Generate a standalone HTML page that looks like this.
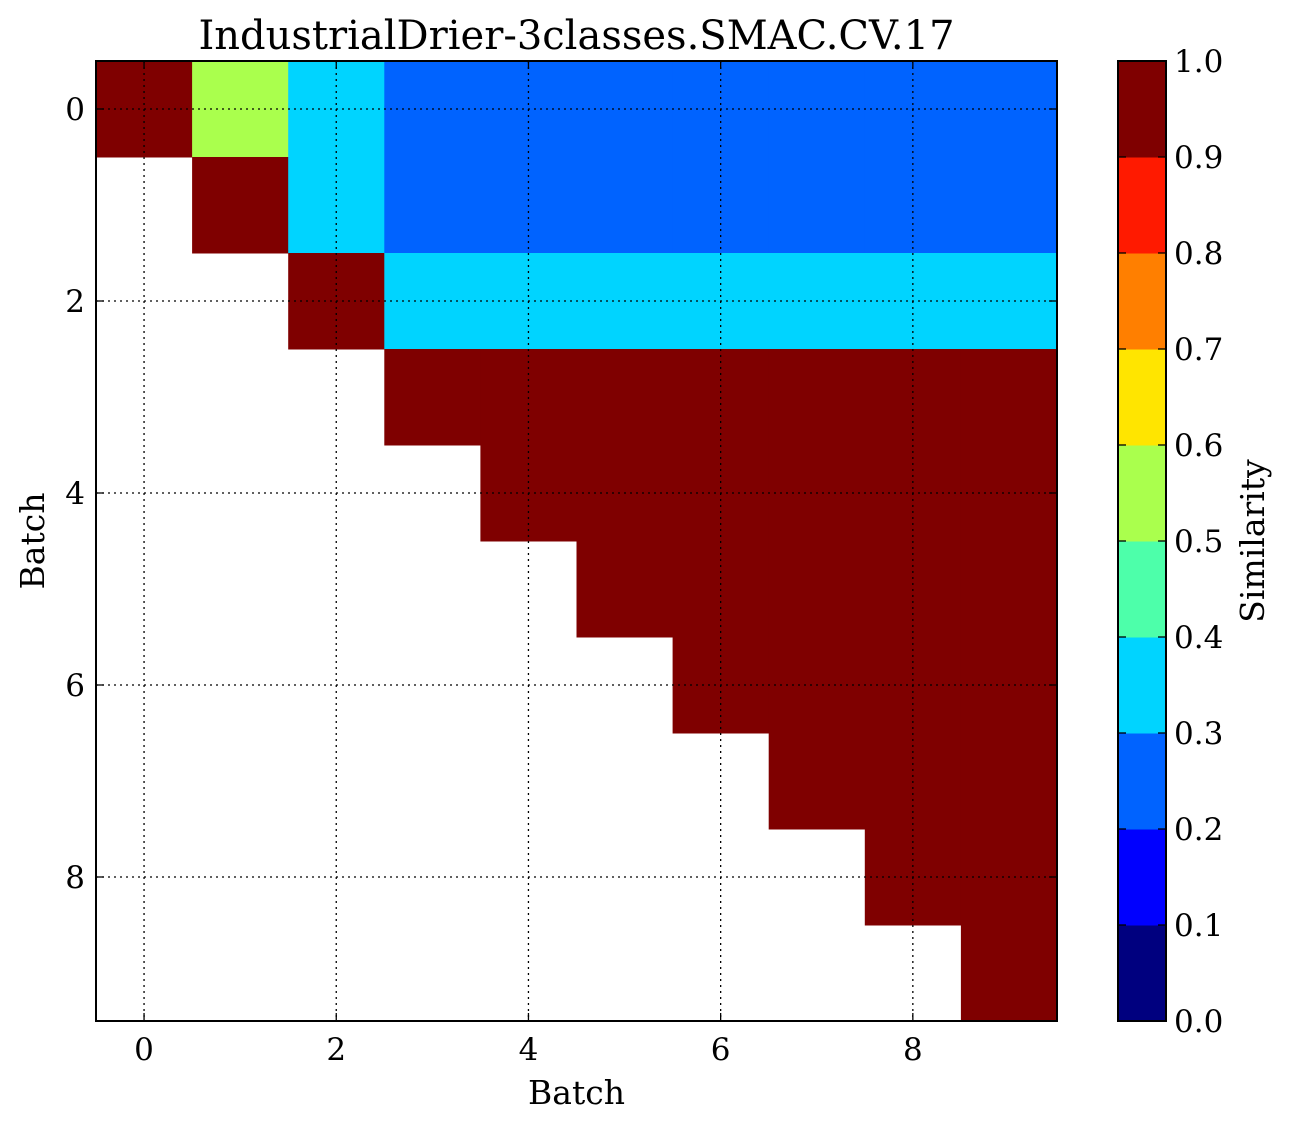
<!DOCTYPE html>
<html><head><meta charset="utf-8"><style>
body{margin:0;background:#fff}
svg text{font-family:"DejaVu Serif","Liberation Serif",serif;fill:#000}
</style></head><body>
<svg id="c" width="1291" height="1131"></svg>
<script>
const ticks=[0,2,4,6,8];
const cbTicks=["0.0","0.1","0.2","0.3","0.4","0.5","0.6","0.7","0.8","0.9","1.0"];
const bandColors=["#00007f","#0000ff","#0063ff","#00d4ff","#4dffaa","#aaff4d","#ffe500","#ff7f00","#ff1a00","#7f0000"];
const rows=[
[1,0.55,0.35,0.25,0.25,0.25,0.25,0.25,0.25,0.25],
[null,1,0.35,0.25,0.25,0.25,0.25,0.25,0.25,0.25],
[null,null,1,0.35,0.35,0.35,0.35,0.35,0.35,0.35],
[null,null,null,1,1,1,1,1,1,1],
[null,null,null,null,1,1,1,1,1,1],
[null,null,null,null,null,1,1,1,1,1],
[null,null,null,null,null,null,1,1,1,1],
[null,null,null,null,null,null,null,1,1,1],
[null,null,null,null,null,null,null,null,1,1],
[null,null,null,null,null,null,null,null,null,1]];
const NS="http://www.w3.org/2000/svg",svg=document.getElementById('c');
const L=96,R=1057,T=61,B=1021;
const xs=v=>L+(v+0.5)/10*(R-L), ys=v=>T+(v+0.5)/10*(B-T);
function mk(t,a,p){const e=document.createElementNS(NS,t);for(const k in a)e.setAttribute(k,a[k]);(p||svg).appendChild(e);return e;}
function col(v){let i=Math.min(9,Math.floor(v*10+1e-9));return bandColors[i];}
rows.forEach((r,i)=>r.forEach((v,j)=>{if(v==null)return;
 const e=mk('rect',{x:xs(j-0.5),y:ys(i-0.5),width:xs(j+0.5)-xs(j-0.5)+0.5,height:ys(i+0.5)-ys(i-0.5)+0.5,fill:col(v)});
 
 }));
ticks.forEach(t=>{
 const g1=mk('line',{x1:xs(t),x2:xs(t),y1:T,y2:B,stroke:'#000','stroke-width':1.3,'stroke-dasharray':'2,4'});
 
 const g2=mk('line',{y1:ys(t),y2:ys(t),x1:L,x2:R,stroke:'#000','stroke-width':1.3,'stroke-dasharray':'2,4'});
 
 mk('line',{x1:xs(t),x2:xs(t),y1:B,y2:B-8,stroke:'#000','stroke-width':1.3});
 mk('line',{x1:xs(t),x2:xs(t),y1:T,y2:T+8,stroke:'#000','stroke-width':1.3});
 mk('line',{y1:ys(t),y2:ys(t),x1:L,x2:L+8,stroke:'#000','stroke-width':1.3});
 mk('line',{y1:ys(t),y2:ys(t),x1:R,x2:R-8,stroke:'#000','stroke-width':1.3});
 const tx=mk('text',{x:xs(t),y:B+39,'font-size':31,'text-anchor':'middle'});tx.textContent=t;
 
 const ty=mk('text',{x:L-11,y:ys(t)+11,'font-size':31,'text-anchor':'end'});ty.textContent=t;
 
});
const fr=mk('rect',{x:L,y:T,width:R-L,height:B-T,fill:'none',stroke:'#000','stroke-width':2});

const ti=mk('text',{x:(L+R)/2,y:49,'font-size':40,'text-anchor':'middle'});ti.textContent='IndustrialDrier-3classes.SMAC.CV.17';

const xl=mk('text',{x:(L+R)/2,y:1104,'font-size':33,'text-anchor':'middle'});xl.textContent='Batch';

const yl=mk('text',{x:0,y:0,'font-size':33,'text-anchor':'middle',transform:'translate(44,541) rotate(-90)'});yl.textContent='Batch';

const CL=1118,CR=1166,CT=61,CB=1021,cy=v=>CB-v*(CB-CT);
bandColors.forEach((c,i)=>{const e=mk('rect',{x:CL,y:cy((i+1)/10),width:CR-CL,height:(CB-CT)/10+0.5,fill:c});
 });
cbTicks.forEach(s=>{const v=parseFloat(s);
 mk('line',{x1:CL,x2:CL+8,y1:cy(v),y2:cy(v),stroke:'#000','stroke-width':1.3});
 mk('line',{x1:CR,x2:CR-8,y1:cy(v),y2:cy(v),stroke:'#000','stroke-width':1.3});
 const t=mk('text',{x:CR+8,y:cy(v)+11,'font-size':31});t.textContent=s;
 });
const cf=mk('rect',{x:CL,y:CT,width:CR-CL,height:CB-CT,fill:'none',stroke:'#000','stroke-width':2});

const cl=mk('text',{x:0,y:0,'font-size':33,'text-anchor':'middle',transform:'translate(1264,541) rotate(-90)'});cl.textContent='Similarity';

</script>
</body></html>
